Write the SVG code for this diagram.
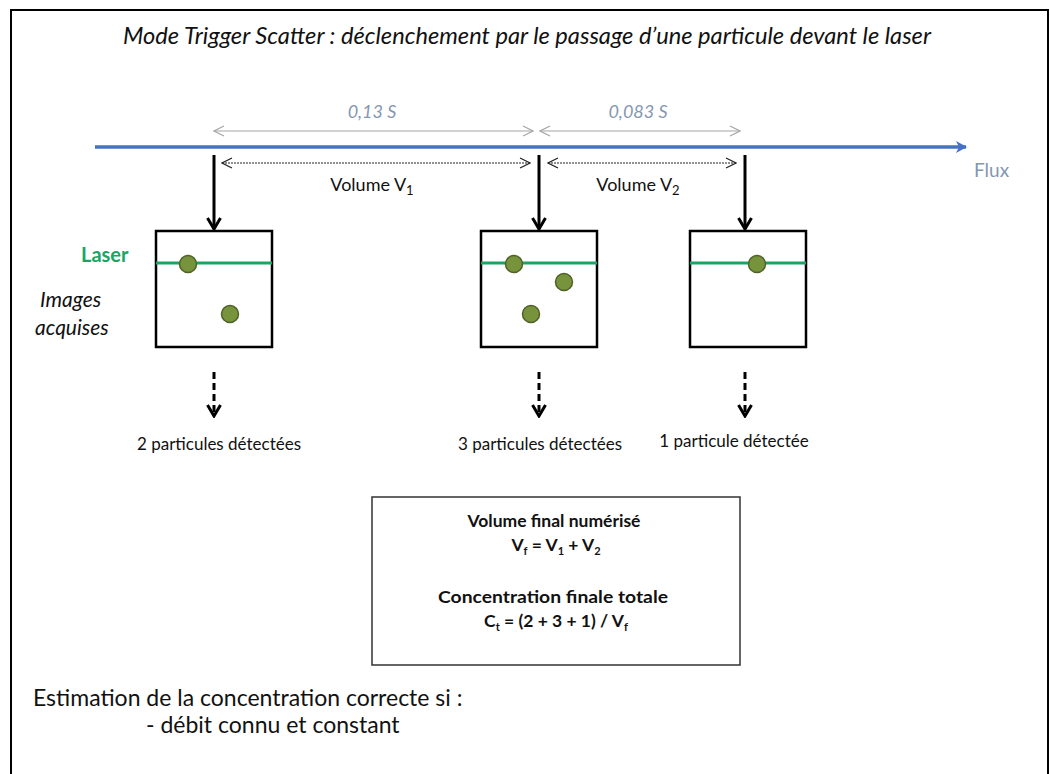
<svg xmlns="http://www.w3.org/2000/svg" width="1050" height="774" viewBox="0 0 1050 774">
  <defs>
    <style>
      text { font-family: Lato, "Liberation Sans", sans-serif; fill: #111; }
      .title { font-size: 23px; font-style: italic; }
      .time { font-size: 18px; font-style: italic; fill: #8497b0; }
      .vol { font-size: 18px; }
      .lbl { font-size: 17px; }
      .big { font-size: 23px; }
      .bold { font-weight: bold; font-size: 17.5px; }
      .frame { fill: #fff; stroke: #000; stroke-width: 2; }
      .img { fill: #fff; stroke: #000; stroke-width: 2.5; }
      .laser { stroke: #1aa564; stroke-width: 3; }
      .part { fill: #77933c; stroke: #4f6228; stroke-width: 1.5; }
      .trig { stroke: #000; stroke-width: 3; fill: none; }
      .res { stroke: #000; stroke-width: 3; fill: none; stroke-dasharray: 7 4; }
      .gray { stroke: #a6a6a6; stroke-width: 1.2; fill: none; }
      .dot { stroke: #222; stroke-width: 1; stroke-dasharray: 2 1; fill: none; }
    </style>
    <marker id="openS" viewBox="0 0 12 12" refX="11" refY="6" markerWidth="12" markerHeight="12" markerUnits="userSpaceOnUse" orient="auto-start-reverse">
      <path d="M1 1 L11 6 L1 11" fill="none" stroke="#a6a6a6" stroke-width="1.2"/>
    </marker>
    <marker id="openD" viewBox="0 0 12 12" refX="11" refY="6" markerWidth="12" markerHeight="12" markerUnits="userSpaceOnUse" orient="auto-start-reverse">
      <path d="M1 1 L11 6 L1 11" fill="none" stroke="#222" stroke-width="1.2"/>
    </marker>
    <marker id="vHead" viewBox="0 0 16 16" refX="14" refY="8" markerWidth="16" markerHeight="16" markerUnits="userSpaceOnUse" orient="auto">
      <path d="M3 1.5 L14 8 L3 14.5" fill="none" stroke="#000" stroke-width="3"/>
    </marker>
    <marker id="flowHead" viewBox="0 0 12 12" refX="10" refY="6" markerWidth="12" markerHeight="12" markerUnits="userSpaceOnUse" orient="auto">
      <path d="M0 0 L11 6 L0 12 L3 6 Z" fill="#4472c4"/>
    </marker>
  </defs>

  <!-- outer frame -->
  <rect class="frame" x="11" y="10" width="1037" height="775"/>

  <text id="title" class="title" x="527" y="44" text-anchor="middle" textLength="808" lengthAdjust="spacingAndGlyphs">Mode Trigger Scatter : déclenchement par le passage d’une particule devant le laser</text>

  <!-- flow axis and intervals -->
  <g id="connectors">
    <line x1="95" y1="147" x2="966" y2="147" stroke="#4472c4" stroke-width="3.5" marker-end="url(#flowHead)"/>

    <line class="gray" x1="214" y1="131" x2="533" y2="131" marker-start="url(#openS)" marker-end="url(#openS)"/>
    <line class="gray" x1="540" y1="131" x2="740" y2="131" marker-start="url(#openS)" marker-end="url(#openS)"/>

    <line class="dot" x1="222" y1="163" x2="530" y2="163" marker-start="url(#openD)" marker-end="url(#openD)"/>
    <line class="dot" x1="548" y1="163" x2="736" y2="163" marker-start="url(#openD)" marker-end="url(#openD)"/>

    <line class="trig" x1="214" y1="155" x2="214" y2="229" marker-end="url(#vHead)"/>
    <line class="trig" x1="539" y1="155" x2="539" y2="229" marker-end="url(#vHead)"/>
    <line class="trig" x1="745" y1="155" x2="745" y2="229" marker-end="url(#vHead)"/>

    <line class="res" x1="214" y1="372" x2="214" y2="416" marker-end="url(#vHead)"/>
    <line class="res" x1="539" y1="372" x2="539" y2="416" marker-end="url(#vHead)"/>
    <line class="res" x1="745" y1="372" x2="745" y2="416" marker-end="url(#vHead)"/>
  </g>

  <g id="labels-axis">
    <text class="time" x="372" y="118" text-anchor="middle">0,13 S</text>
    <text class="time" x="638" y="118" text-anchor="middle">0,083 S</text>
    <text class="vol" x="372" y="191" text-anchor="middle">Volume V<tspan font-size="13" dy="4">1</tspan></text>
    <text class="vol" x="638" y="191" text-anchor="middle">Volume V<tspan font-size="13" dy="4">2</tspan></text>
    <text x="974" y="177" font-size="19" style="fill:#8497b0">Flux</text>
  </g>

  <g id="side-labels">
    <text x="81" y="262" font-size="20" font-weight="bold" style="fill:#1aa564">Laser</text>
    <text x="40" y="307" font-size="21" font-style="italic">Images</text>
    <text x="35" y="335" font-size="21" font-style="italic">acquises</text>
  </g>

  <!-- acquired images -->
  <g id="image1">
    <rect class="img" x="156" y="231" width="116" height="116"/>
    <line class="laser" x1="156" y1="263" x2="272" y2="263"/>
    <circle class="part" cx="188" cy="264" r="8.5"/>
    <circle class="part" cx="230" cy="314" r="8.5"/>
  </g>
  <g id="image2">
    <rect class="img" x="481" y="231" width="116" height="116"/>
    <line class="laser" x1="481" y1="263" x2="597" y2="263"/>
    <circle class="part" cx="514" cy="264" r="8.5"/>
    <circle class="part" cx="564" cy="282" r="8.5"/>
    <circle class="part" cx="531" cy="314" r="8.5"/>
  </g>
  <g id="image3">
    <rect class="img" x="690" y="231" width="116" height="116"/>
    <line class="laser" x1="690" y1="263" x2="806" y2="263"/>
    <circle class="part" cx="757" cy="264" r="8.5"/>
  </g>

  <g id="counts">
    <text class="lbl" x="219" y="450" text-anchor="middle">2 particules détectées</text>
    <text class="lbl" x="540" y="450" text-anchor="middle">3 particules détectées</text>
    <text class="lbl" x="734" y="447" text-anchor="middle">1 particule détectée</text>
  </g>

  <g id="result">
    <rect x="372" y="497" width="368" height="168" fill="#fff" stroke="#333" stroke-width="1.5"/>
    <text class="bold" x="554" y="527" text-anchor="middle">Volume final numérisé</text>
    <text class="bold" x="556" y="551" text-anchor="middle">V<tspan font-size="11" dy="4">f</tspan><tspan dy="-4"> = V</tspan><tspan font-size="11" dy="4">1</tspan><tspan dy="-4"> + V</tspan><tspan font-size="11" dy="4">2</tspan></text>
    <text class="bold" x="553" y="603" text-anchor="middle" textLength="230" lengthAdjust="spacingAndGlyphs">Concentration finale totale</text>
    <text class="bold" x="556" y="627" text-anchor="middle">C<tspan font-size="11" dy="4">t</tspan><tspan dy="-4"> = (2 + 3 + 1) / V</tspan><tspan font-size="11" dy="4">f</tspan></text>
  </g>

  <g id="note">
    <text class="big" x="33" y="706">Estimation de la concentration correcte si :</text>
    <text class="big" x="146" y="733">- débit connu et constant</text>
  </g>
</svg>
